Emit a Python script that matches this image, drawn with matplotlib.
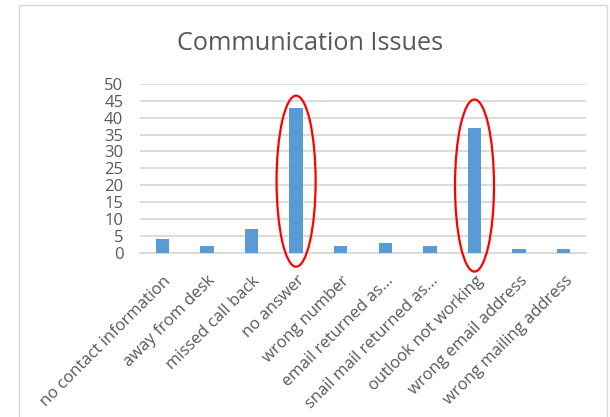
import matplotlib
matplotlib.use("Agg")
import matplotlib.pyplot as plt
from matplotlib.patches import Ellipse, Rectangle
from matplotlib.transforms import ScaledTranslation
import numpy as np

categories = ["no contact information", "away from desk", "missed call back",
              "no answer", "wrong number", "email returned as...",
              "snail mail returned as...", "outlook not working",
              "wrong email address", "wrong mailing address"]
values = [4, 2, 7, 43, 2, 3, 2, 37, 1, 1]
yticks = [0, 5, 10, 15, 20, 25, 30, 35, 40, 45, 50]
highlight = ["no answer", "outlook not working"]
# hand-drawn ellipse annotations: (vertical centre, height) in data units
ellipse_geom = [(21.2, 50.7), (19.9, 51.0)]

plt.rcParams['font.family'] = ['Open Sans', 'DejaVu Sans']
grey = "#595959"

fig = plt.figure(figsize=(6.10, 4.17), dpi=100)
fig.patches.append(Rectangle((18.5/610, -0.05), (606.5-18.5)/610, 1.05 - 5/417,
                             transform=fig.transFigure, fill=False,
                             edgecolor="#d9d9d9", linewidth=1))
ax = fig.add_axes([140/610, 1-252.7/417, 446/610, 168.7/417])

x = np.arange(len(categories))
ax.bar(x, values, width=0.30, color="#5B9BD5", zorder=3)
ax.set_xlim(-0.5, len(categories) - 0.5)
ax.set_ylim(0, 50)
ax.set_yticks(yticks)
ax.set_yticklabels([str(t) for t in yticks], fontsize=12, color=grey)
ax.yaxis.grid(True, color="#d9d9d9", linewidth=1.3, zorder=0)
ax.tick_params(axis='y', length=0, pad=12)
ax.tick_params(axis='x', length=0, pad=14.5)
ax.set_xticks(x)
ax.set_xticklabels(categories, rotation=45, ha='right', rotation_mode='anchor',
                   fontsize=12, color=grey)
off = ScaledTranslation(0.5/100, 0, fig.dpi_scale_trans)
for lbl in ax.get_xticklabels():
    lbl.set_transform(lbl.get_transform() + off)
for s in ["top", "right", "left"]:
    ax.spines[s].set_visible(False)
ax.spines["bottom"].set_color("#d9d9d9")
ax.spines["bottom"].set_linewidth(1.3)

for name, (cy, h) in zip(highlight, ellipse_geom):
    i = categories.index(name)
    e = Ellipse((i, cy), width=0.875, height=h, fill=False,
                edgecolor="red", linewidth=1.6, clip_on=False, zorder=5)
    ax.add_patch(e)

fig.text(310/610, 1 - 43/417, "Communication Issues", ha='center', va='center',
         fontsize=18.2, color=grey)

fig.savefig("out.png", dpi=100)
